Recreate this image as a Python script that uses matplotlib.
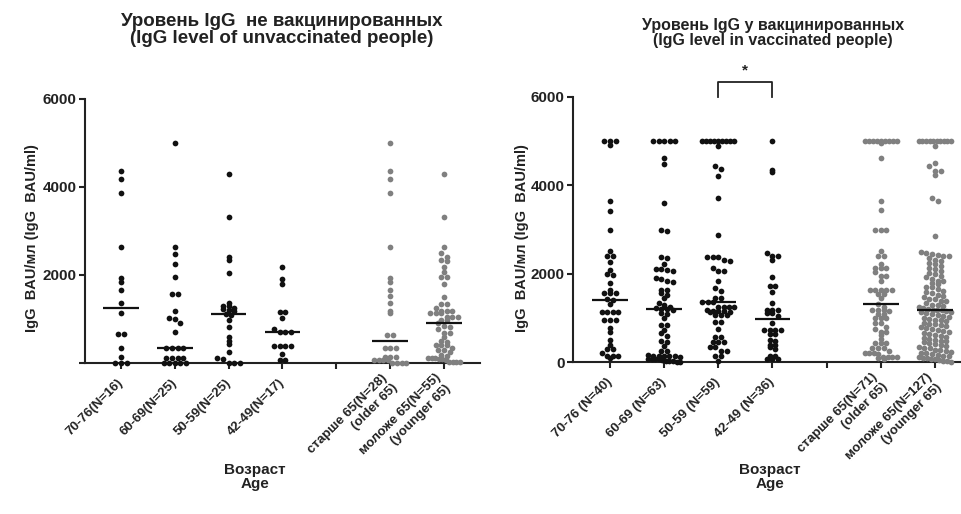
import numpy as np
import matplotlib
matplotlib.use("Agg")
import matplotlib.pyplot as plt

plt.rcParams['font.family'] = ['Liberation Sans', 'DejaVu Sans']
plt.rcParams['font.weight'] = 'bold'

# ---- data (IgG, BAU/ml) ----
unvac_labels = ["70-76(N=16)", "60-69(N=25)", "50-59(N=25)", "42-49(N=17)", "",
                "старше 65(N=28)\n(older 65)", "моложе 65(N=55)\n(younger 65)"]
vac_labels = ["70-76 (N=40)", "60-69 (N=63)", "50-59 (N=59)", "42-49 (N=36)", "",
              "старше 65(N=71)\n(older 65)", "моложе 65(N=127)\n(younger 65)"]

unvac_70_76 = [4370, 4180, 3860, 2640, 1940, 1850, 1670, 1370, 1130, 670, 670, 350, 140, 10, 10, 10]
unvac_60_69 = [5000, 2640, 2480, 2260, 1960, 1560, 1560, 1190, 1020, 1010, 920, 710, 350, 350, 350, 350,
               120, 120, 120, 120, 10, 10, 10, 10, 10]
unvac_50_59 = [4300, 3310, 2400, 2330, 2050, 1370, 1300, 1290, 1250, 1220, 1200, 1180, 1120, 1100, 980,
               810, 600, 490, 430, 260, 110, 100, 10, 10, 10]
unvac_42_49 = [2190, 1920, 1800, 1150, 1150, 1030, 770, 710, 710, 710, 390, 390, 390, 390, 200, 70, 70]
unvac_older = [5000, 4370, 4180, 3860, 2640, 1940, 1850, 1670, 1520, 1370, 1190, 1130, 640, 640,
               350, 350, 350, 140, 140, 140, 70, 70, 70, 70, 10, 10, 10, 10]
unvac_younger = [4300, 3310, 2640, 2490, 2400, 2330, 2320, 2190, 2060, 1960, 1960, 1800, 1510, 1330, 1330,
                 1240, 1190, 1190, 1190, 1130, 1130, 1130, 1050, 1050, 1050, 980, 980, 900, 830, 820,
                 780, 690, 690, 600, 490, 480, 410, 410, 410, 350, 300, 290, 250, 180, 150,
                 110, 110, 110, 100, 100, 60, 30, 30, 30, 30]

vac_70_76 = [5000, 5000, 5000, 4920, 3640, 3430, 2990, 2510, 2390, 2390, 2260, 2090, 2000, 1960, 1800,
             1640, 1560, 1560, 1560, 1420, 1400, 1320, 1130, 1130, 1130, 1130, 960, 950, 950, 770,
             670, 500, 390, 290, 290, 200, 140, 140, 140, 80]
vac_60_69 = [5000, 5000, 5000, 5000, 5000, 4630, 4490, 3590, 2990, 2960, 2370, 2350, 2210, 2110, 2100,
             2090, 2050, 1900, 1890, 1830, 1820, 1640, 1630, 1560, 1520, 1450, 1340, 1290, 1250, 1230,
             1210, 1195, 1180, 1100, 1090, 990, 840, 830, 730, 650, 580, 470, 460, 360, 250, 240,
             150, 145, 140, 135, 130, 125, 120, 70, 70, 65, 60, 40, 30, 25, 20, 10, 5]
vac_50_59 = [5000, 5000, 5000, 5000, 5000, 5000, 5000, 5000, 5000, 4880, 4430, 4380, 4210, 3710,
             2870, 2380, 2380, 2380, 2320, 2280, 2130, 2050, 2050, 1830, 1680, 1600, 1450, 1450,
             1350, 1350, 1350, 1250, 1250, 1250, 1250, 1170, 1160, 1150, 1150, 1140, 1130,
             1060, 1060, 1060, 900, 900, 750, 560, 560, 450, 450, 450, 340, 340, 240, 240, 140, 140, 20]
vac_42_49 = [5000, 4340, 4300, 2470, 2390, 2390, 2320, 1920, 1710, 1710, 1580, 1330, 1180, 1180, 1180,
             1110, 1100, 1050, 890, 730, 730, 720, 720, 640, 630, 490, 480, 390, 380, 330, 300,
             140, 130, 60, 60, 60]
vac_older = [5000, 5000, 5000, 5000, 5000, 5000, 5000, 5000, 5000, 4950, 4630, 3640, 3440, 3000,
             3000, 3000, 2510, 2410, 2410, 2220, 2130, 2130, 2130, 2030, 1940, 1940, 1830, 1640, 1640,
             1640, 1640, 1640, 1550, 1550, 1460, 1320,
             1250, 1180, 1180, 1180, 1150, 1090, 1090, 990, 990, 990, 890, 890, 800, 750, 690,
             690, 610, 520, 420, 420, 420, 310, 310, 310, 260, 210, 210, 210, 170, 120,
             120, 120, 120, 90, 60]
vac_younger = [5000, 5000, 5000, 5000, 5000, 5000, 5000, 5000, 5000, 5000, 4900, 4510, 4430, 4330,
               4320, 4230, 3720, 3640, 2860,
               2490, 2470, 2440, 2430, 2400, 2390, 2360, 2310, 2290, 2240, 2210, 2180, 2120, 2110,
               2070, 2010, 1990, 1950, 1930, 1880, 1840, 1830, 1790, 1760, 1700, 1690, 1650, 1600,
               1590, 1560, 1510, 1500, 1470, 1430, 1420, 1390, 1370, 1340, 1300, 1290, 1260, 1240,
               1220, 1200, 1185,
               1180, 1170, 1160, 1140, 1130, 1110, 1090, 1070, 1040, 1030, 1000, 980, 960, 950,
               920, 890, 870, 860, 830, 810, 790, 770, 740, 720, 700, 690, 660, 640, 610, 590,
               570, 550, 530, 500, 480, 470, 450, 420, 400, 390, 370, 340, 320, 310, 280, 270,
               250, 230, 210, 200, 180, 160, 140, 130, 110, 100, 80, 70, 60, 40, 30, 20, 10]

unvac_groups = [unvac_70_76, unvac_60_69, unvac_50_59, unvac_42_49, None, unvac_older, unvac_younger]
vac_groups = [vac_70_76, vac_60_69, vac_50_59, vac_42_49, None, vac_older, vac_younger]
group_colors = ["#111111"] * 4 + [None] + ["#808080"] * 2

W, H = 962, 514
PX_PER_UNIT_Y = 264 / 6000.0
PX_PER_UNIT_X = 54.0


def swarm_offsets(vals, dot_px=5.6, row_px=5.0, max_px=32.0):
    # GraphPad-like rows: values falling into the same row are spread side by side
    vals = np.asarray(vals, dtype=float)
    bins = np.floor(vals * PX_PER_UNIT_Y / row_px).astype(int)
    off = np.zeros(len(vals))
    for b in np.unique(bins):
        idx = np.where(bins == b)[0]
        n = len(idx)
        if n == 1:
            continue
        step = min(dot_px, max_px / (n - 1))
        off[idx] = (np.arange(n) - (n - 1) / 2.0) * step
    return off / PX_PER_UNIT_X


def draw_panel(ax, groups, labels, show_zero):
    for i, vals in enumerate(groups):
        if vals is None:
            continue
        xs = i + swarm_offsets(vals)
        ax.scatter(xs, vals, s=17, color=group_colors[i], linewidths=0, clip_on=False, zorder=3)
        med = np.median(vals)
        ax.plot([i - 0.33, i + 0.33], [med, med], color="#111111", lw=1.6, zorder=4,
                solid_capstyle="butt")
    for s in ["top", "right"]:
        ax.spines[s].set_visible(False)
    for s in ["left", "bottom"]:
        ax.spines[s].set_linewidth(1.5)
        ax.spines[s].set_color("#222222")
    ax.set_ylim(0, 6000)
    ax.set_yticks([0, 2000, 4000, 6000])
    ax.set_yticklabels(["0" if show_zero else "", "2000", "4000", "6000"],
                       fontsize=11, fontweight="bold", color="#222222")
    ax.set_xticks(range(len(labels)))
    ax.set_xticklabels(labels, rotation=45, ha="right", va="center", rotation_mode="anchor",
                       fontsize=9.5, fontweight="bold", color="#222222", linespacing=1.3)
    ax.tick_params(axis="both", direction="out", length=4, width=1.5, color="#222222")
    ax.tick_params(axis="x", pad=9)
    ax.tick_params(axis="y", pad=2)


fig = plt.figure(figsize=(W / 100, H / 100), dpi=100)
ax1 = fig.add_axes([85 / W, 1 - 363 / H, 395 / W, 264 / H])
ax2 = fig.add_axes([573 / W, 1 - 362 / H, 389 / W, 265 / H])

draw_panel(ax1, unvac_groups, unvac_labels, False)
ax1.set_xlim(-0.667, 6.667)
draw_panel(ax2, vac_groups, vac_labels, True)
ax2.set_xlim(-0.683, 6.5)

# significance bracket between 50-59 and 42-49
ax2.plot([2, 2, 3, 3], [6000, 6340, 6340, 6000], color="#222222", lw=1.3, clip_on=False)
ax2.text(2.5, 6600, "*", ha="center", va="center", fontsize=11, fontweight="bold", color="#222222")

# titles
fig.text(282 / W, 1 - 30 / H, "Уровень IgG  не вакцинированных\n(IgG level of unvaccinated people)",
         ha="center", va="center", fontsize=13.5, fontweight="bold", color="#222222", linespacing=1.0)
fig.text(773 / W, 1 - 33 / H, "Уровень IgG у вакцинированных\n(IgG level in vaccinated people)",
         ha="center", va="center", fontsize=11.5, fontweight="bold", color="#222222", linespacing=1.05)

# axis titles
for xpx in (32, 522):
    fig.text(xpx / W, 1 - 238 / H, "IgG  BAU/мл (IgG  BAU/ml)", rotation=90, ha="center", va="center",
             fontsize=10.5, fontweight="bold", color="#222222")
for xpx in (255, 770):
    fig.text(xpx / W, 1 - 477 / H, "Возраст\nAge", ha="center", va="center",
             fontsize=11, fontweight="bold", color="#222222", linespacing=1.05)

fig.savefig("out.png", dpi=100)
